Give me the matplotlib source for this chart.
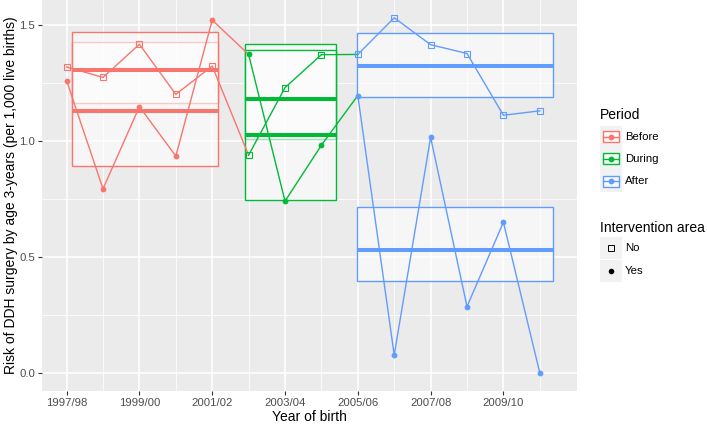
import matplotlib
matplotlib.use("Agg")
import matplotlib.pyplot as plt
from matplotlib.patches import Rectangle

plt.rcParams["font.family"] = ["Liberation Sans", "DejaVu Sans"]

# x categories (year of birth), one per index
YEARS = ["1997/98", "1998/99", "1999/00", "2000/01", "2001/02", "2002/03", "2003/04",
         "2004/05", "2005/06", "2006/07", "2007/08", "2008/09", "2009/10", "2010/11"]

PERIODS = ["Before", "During", "After"]
PERIOD_COLORS = ["#F8766D", "#00BA38", "#619CFF"]
PERIOD_START = [0, 5, 8]          # first year index of each period

# risk per 1,000 live births, by intervention area
RISK_NO = [1.318, 1.273, 1.416, 1.200, 1.322,
           0.938, 1.229, 1.371,
           1.372, 1.530, 1.414, 1.376, 1.110, 1.129]
RISK_YES = [1.259, 0.793, 1.147, 0.934, 1.520,
            1.372, 0.740, 0.981,
            1.195, 0.077, 1.015, 0.286, 0.649, 0.000]

# period summary boxes (x extent in year index units)
BOX_XMIN = [0.15, 4.89, 7.98]
BOX_XMAX = [4.15, 7.41, 13.36]
NO_LOW = [1.162, 1.006, 1.189]
NO_HIGH = [1.427, 1.418, 1.465]
NO_MEAN = [1.306, 1.182, 1.321]
YES_LOW = [0.892, 0.743, 0.394]
YES_HIGH = [1.468, 1.392, 0.713]
YES_MEAN = [1.127, 1.027, 0.530]

AREAS = ["No", "Yes"]

W, H = 707, 424
fig = plt.figure(figsize=(W / 100, H / 100), dpi=100)
ax = fig.add_axes([42.3 / W, (H - 390.7) / H, (577.3 - 42.3) / W, 390.7 / H])
ax.set_facecolor("#EBEBEB")

x = list(range(len(YEARS)))
ends = PERIOD_START[1:] + [len(YEARS) - 1]

# boxes: "No" first, then "Yes" on top
for i, col in enumerate(PERIOD_COLORS):
    for lo, hi in ((NO_LOW[i], NO_HIGH[i]), (YES_LOW[i], YES_HIGH[i])):
        ax.add_patch(Rectangle((BOX_XMIN[i], lo), BOX_XMAX[i] - BOX_XMIN[i], hi - lo,
                               facecolor=(1, 1, 1, 0.6), edgecolor=col, lw=1.0, zorder=2))
    for m in (NO_MEAN[i], YES_MEAN[i]):
        ax.plot([BOX_XMIN[i], BOX_XMAX[i]], [m, m], color=col, lw=2.9,
                solid_capstyle="butt", zorder=3)

# connecting paths, segment colour from the starting period
for i, col in enumerate(PERIOD_COLORS):
    s, e = PERIOD_START[i], ends[i]
    for vals in (RISK_NO, RISK_YES):
        ax.plot(x[s:e + 1], vals[s:e + 1], color=col, lw=1.0, zorder=4)

# points
for i, col in enumerate(PERIOD_COLORS):
    s = PERIOD_START[i]
    e = PERIOD_START[i + 1] if i + 1 < len(PERIOD_START) else len(YEARS)
    ax.plot(x[s:e], RISK_NO[s:e], ls="none", marker="s", ms=4.4, mfc="none",
            mec=col, mew=0.8, zorder=5)
    ax.plot(x[s:e], RISK_YES[s:e], ls="none", marker="o", ms=4.2, mfc=col,
            mec=col, mew=0, zorder=5)

ax.set_xlim(-0.668, 14.03)
ax.set_ylim(-0.0765, 1.6065)
ax.set_xticks(x[::2])
ax.set_xticklabels(YEARS[::2])
ax.set_xticks(x[1::2], minor=True)
ax.set_yticks([0, 0.5, 1.0, 1.5])
ax.set_yticklabels(["0.0", "0.5", "1.0", "1.5"])
ax.set_yticks([0.25, 0.75, 1.25], minor=True)
ax.grid(which="major", color="white", lw=1.1)
ax.grid(which="minor", color="white", lw=0.55)
ax.set_axisbelow(True)
for sp in ax.spines.values():
    sp.set_visible(False)
ax.tick_params(which="major", length=3.2, width=0.8, color="#333333",
               labelsize=8.2, labelcolor="#4D4D4D", pad=2)
ax.tick_params(which="minor", length=0)

ax.set_xlabel("Year of birth", fontsize=10)
ax.xaxis.label.set_va("center")
ax.xaxis.set_label_coords(0.5, -26.3 / 390.7)
ax.set_ylabel("Risk of DDH surgery by age 3-years (per 1,000 live births)", fontsize=10)
ax.yaxis.label.set_va("center")
ax.yaxis.set_label_coords((11.5 - 42.3) / 535.0, 0.5)

# legend drawn in pixel coordinates
lg = fig.add_axes([0, 0, 1, 1])
lg.set_xlim(0, W)
lg.set_ylim(H, 0)
lg.axis("off")

lg.text(600, 115, "Period", fontsize=10, va="center", ha="left")
for k, (name, col) in enumerate(zip(PERIODS, PERIOD_COLORS)):
    cy = 136.7 + k * 22.2
    lg.add_patch(Rectangle((600, cy - 11), 21.5, 22, facecolor="#F2F2F2", edgecolor="none"))
    lg.add_patch(Rectangle((602.7, cy - 5.5), 16.6, 11, facecolor=(1, 1, 1, 0.6),
                           edgecolor=col, lw=1.0))
    lg.plot([602.7, 619.3], [cy, cy], color=col, lw=1.0)
    lg.plot([611], [cy], marker="o", ms=4.2, color=col, mew=0)
    lg.text(625, cy, name, fontsize=8.2, va="center", ha="left")

lg.text(600, 227.5, "Intervention area", fontsize=10, va="center", ha="left")
for k, name in enumerate(AREAS):
    cy = 248.3 + k * 22.4
    lg.add_patch(Rectangle((600, cy - 11), 21.5, 22, facecolor="#F2F2F2", edgecolor="none"))
    if name == "No":
        lg.plot([611], [cy], marker="s", ms=4.0, mfc="none", mec="black", mew=0.7)
    else:
        lg.plot([611], [cy], marker="o", ms=4.0, color="black", mew=0)
    lg.text(625, cy, name, fontsize=8.2, va="center", ha="left")

fig.savefig("out.png", dpi=100)
